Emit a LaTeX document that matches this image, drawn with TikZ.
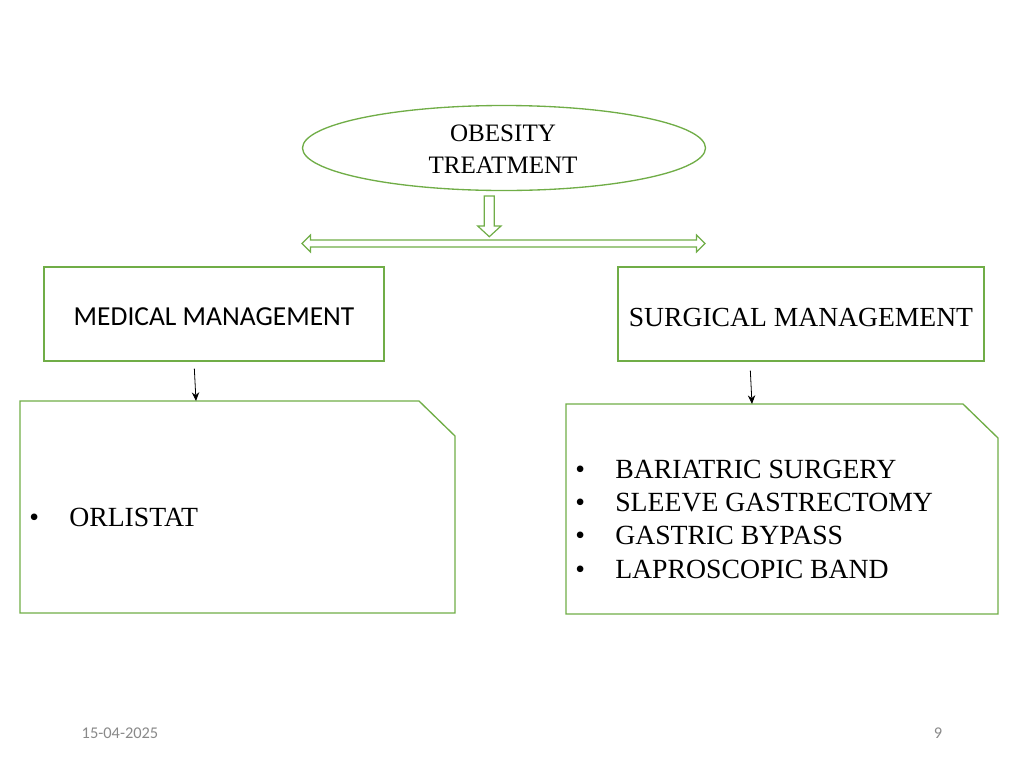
\documentclass[tikz,border=0pt]{standalone}
\usepackage{fontspec}
\setmainfont{Liberation Serif}
\newfontfamily\calibri{Carlito}
\usetikzlibrary{calc,arrows.meta,shapes.geometric}
\definecolor{ogreen}{RGB}{112,173,71}
\definecolor{foot}{RGB}{137,137,137}
\tikzset{
  gline/.style={draw=ogreen,line width=1pt},
  blank/.style={inner sep=0pt,outer sep=0pt},
  thinarrow/.style={draw=black,line width=0.6pt,-{Stealth[length=6.5pt,width=5.5pt]}},
  bulletlist/.style={anchor=west,align=left,inner sep=0pt,font=\fontsize{20.8}{25}\selectfont},
  footer/.style={text=foot,font=\calibri\fontsize{12.3}{14}\selectfont,inner sep=0pt}
}
\begin{document}
\begin{tikzpicture}[x=0.75pt,y=-0.75pt]
\useasboundingbox (0,0) rectangle (1024,768);
% ellipse
\node[ellipse,gline,minimum width=302.25pt,minimum height=63.75pt,inner sep=0pt] (obes) at (504,148) {};
\node[blank,align=center,font=\fontsize{18.8}{24}\selectfont] (obestxt) at ($(obes)+(-1,1.5)$) {OBESITY\\TREATMENT};
% down block arrow
\draw[gline,line width=0.9pt,fill=white] (484.3,196) -- (494.3,196) -- (494.3,226) -- (501,226) -- (489.3,236.7)
  -- (477.7,226) -- (484.3,226) -- cycle;
% horizontal double arrow
\draw[gline,line width=0.9pt,fill=white] (302,243.5) -- (310.5,235) -- (310.5,240) -- (696.5,240) -- (696.5,235)
  -- (705,243.5) -- (696.5,252) -- (696.5,247) -- (310.5,247) -- (310.5,252) -- cycle;
% management boxes
\node[gline,minimum width=255pt,minimum height=70.5pt,inner sep=0pt] (med) at (214,314) {};
\node[blank,font=\calibri\fontsize{20.6}{24}\selectfont] (medtxt) at ($(med)+(0,3)$) {MEDICAL MANAGEMENT};
\node[gline,minimum width=274.5pt,minimum height=70.5pt,inner sep=0pt] (surg) at (801,314) {};
\node[blank,font=\fontsize{20.7}{24}\selectfont] (surgtxt) at ($(surg)+(0,3)$) {SURGICAL MANAGEMENT};
% content boxes (snipped corner)
\node[blank,minimum width=326.25pt,minimum height=159pt] (lbox) at (237.5,507) {};
\draw[gline] (lbox.north west) -- ($(lbox.north east)+(-36,0)$) -- ($(lbox.north east)+(0,35)$)
  -- (lbox.south east) -- (lbox.south west) -- cycle;
\node[blank,minimum width=324pt,minimum height=157.5pt] (rbox) at (782,509) {};
\draw[gline] (rbox.north west) -- ($(rbox.north east)+(-35,0)$) -- ($(rbox.north east)+(0,34)$)
  -- (rbox.south east) -- (rbox.south west) -- cycle;
% small arrows
\draw[thinarrow] ($(med.south west)+(151,7)$) -- ($(lbox.north west)+(176,0)$);
\draw[thinarrow] ($(surg.south west)+(133,9)$) -- ($(rbox.north west)+(186,0)$);
% lists
\node[bulletlist] (llist) at (29,517) {\makebox[30pt][l]{\textbullet}ORLISTAT};
\node[bulletlist] (rlist) at (575,519) {\makebox[30pt][l]{\textbullet}BARIATRIC SURGERY\\
  \makebox[30pt][l]{\textbullet}SLEEVE GASTRECTOMY\\
  \makebox[30pt][l]{\textbullet}GASTRIC BYPASS\\
  \makebox[30pt][l]{\textbullet}LAPROSCOPIC BAND};
% footer
\node[footer] (date) at (120,733) {15-04-2025};
\node[footer] (page) at (938,733) {9};
\end{tikzpicture}
\end{document}
